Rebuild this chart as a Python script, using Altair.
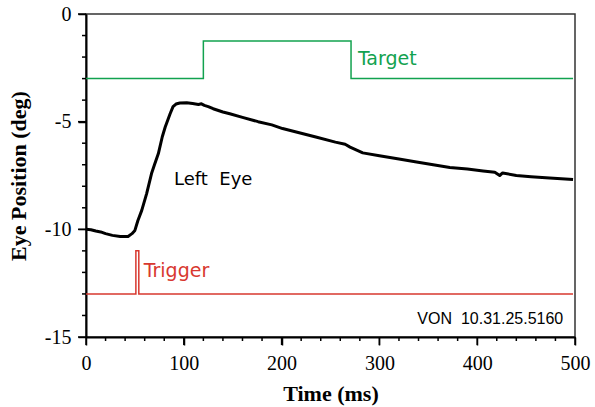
import altair as alt
import pandas as pd

# ---- data ----
eye_t = [0, 5, 10, 15, 20, 27, 35, 43, 47, 50, 53, 57, 62, 67, 70, 74, 78, 81, 86, 89, 92, 96,
         103, 109, 115, 118, 121, 125, 130, 140, 147, 160, 176, 190, 201, 215, 235, 255, 265,
         270, 283, 300, 320, 338, 355, 372, 390, 406, 418, 423, 426, 440, 455, 474, 490, 498]
eye_pos = [-10.0, -10.02, -10.08, -10.12, -10.2, -10.28, -10.33, -10.33, -10.2, -10.05, -9.6,
           -9.12, -8.34, -7.41, -7.0, -6.48, -5.7, -5.25, -4.63, -4.3, -4.18, -4.13,
           -4.12, -4.16, -4.2, -4.17, -4.24, -4.3, -4.4, -4.55, -4.63, -4.8, -5.0, -5.15, -5.32,
           -5.48, -5.71, -5.95, -6.05, -6.18, -6.45, -6.58, -6.73, -6.87, -7.0, -7.13, -7.2,
           -7.29, -7.35, -7.5, -7.38, -7.5, -7.56, -7.62, -7.66, -7.69]

target_t = [0, 120, 120, 271, 271, 498]
target_pos = [-3, -3, -1.25, -1.25, -3, -3]

trigger_t = [0, 51, 51, 54, 54, 498]
trigger_pos = [-13, -13, -11, -11, -13, -13]

NBSP = "\u00a0"
label_text = ["Target", "Left" + NBSP + NBSP + "Eye", "Trigger",
              "VON" + NBSP + NBSP + "10.31.25.5160"]
label_t = [278, 90, 59, 488]
label_pos = [-2.38, -7.96, -12.21, -14.38]

x_major = [0, 100, 200, 300, 400, 500]
x_minor = [v for v in range(0, 501, 20) if v % 100 != 0]
y_major = [0, -5, -10, -15]
y_minor = [v for v in range(-15, 1) if v % 5 != 0]

GREEN = "#12a24f"
RED = "#d8382f"
W, H = 489, 323

def line_df(t, v):
    return pd.DataFrame({"t": t, "v": v, "i": list(range(len(t)))})

xs = alt.Scale(domain=[0, 500], nice=False, zero=False)
ys = alt.Scale(domain=[-15, 0], nice=False, zero=False)

xaxis = alt.Axis(
    values=x_major, labelExpr="'' + datum.value",
    ticks=True, tickSize=8, tickWidth=1.5, tickColor="black",
    domain=True, domainColor="black", domainWidth=2,
    labelFont="Liberation Serif", labelFontSize=20, labelColor="black",
    labelPadding=8, labelFlush=False, labelOverlap=False, grid=False,
    title="Time (ms)", titleFont="Liberation Serif", titleFontSize=22,
    titleFontWeight="bold", titleColor="black",
    titleY=63, titleBaseline="alphabetic", orient="bottom",
)
yaxis = alt.Axis(
    values=y_major, labelExpr="'' + datum.value",
    ticks=True, tickSize=8, tickWidth=1.5, tickColor="black",
    domain=True, domainColor="black", domainWidth=2,
    labelFont="Liberation Serif", labelFontSize=20, labelColor="black",
    labelPadding=7, labelFlush=False, labelOverlap=False, grid=False,
    title="Eye Position (deg)", titleFont="Liberation Serif", titleFontSize=22,
    titleFontWeight="bold", titleColor="black",
    titleX=-61, titleY=161.5, titleAngle=270, titleAlign="center",
    titleBaseline="alphabetic", orient="left",
)

X = alt.X("t:Q", scale=xs, axis=xaxis)
Y = alt.Y("v:Q", scale=ys, axis=yaxis)

target = alt.Chart(line_df(target_t, target_pos)).mark_line(
    color=GREEN, strokeWidth=1.5
).encode(x=X, y=Y, order="i:Q")

trigger = alt.Chart(line_df(trigger_t, trigger_pos)).mark_line(
    color=RED, strokeWidth=1.5
).encode(x=X, y=Y, order="i:Q")

eye = alt.Chart(line_df(eye_t, eye_pos)).mark_line(
    color="black", strokeWidth=3, strokeJoin="round"
).encode(x=X, y=Y, order="i:Q")

# axis tick marks drawn through the shared scales
def xticks(vals, length):
    return alt.Chart(pd.DataFrame({"t": vals})).mark_rule(
        color="black", strokeWidth=1.5, clip=False
    ).encode(x=X, y=alt.value(H), y2=alt.value(H + length))

def yticks(vals, length):
    return alt.Chart(pd.DataFrame({"v": vals})).mark_rule(
        color="black", strokeWidth=1.5, clip=False
    ).encode(y=Y, x=alt.value(0), x2=alt.value(-length))

labels = pd.DataFrame({"t": label_t, "v": label_pos, "text": label_text})

def text_layer(idx, color, font, size, align):
    return alt.Chart(labels.iloc[[idx]]).mark_text(
        color=color, font=font, fontSize=size, align=align, baseline="alphabetic"
    ).encode(x=X, y=Y, text="text:N")

chart = alt.layer(
    target, trigger, eye,
    xticks(x_major, 8), xticks(x_minor, 4),
    yticks(y_major, 8), yticks(y_minor, 4),
    text_layer(0, GREEN, "DejaVu Sans", 19, "left"),
    text_layer(1, "black", "DejaVu Sans", 18, "left"),
    text_layer(2, RED, "DejaVu Sans", 19, "left"),
    text_layer(3, "black", "Liberation Sans", 16, "right"),
).properties(
    width=W, height=H,
    autosize=alt.AutoSizeParams(type="none"),
    padding={"left": 86, "top": 14, "right": 20, "bottom": 70},
    background="white",
).configure_view(stroke="#333333", strokeWidth=1.5)

chart.save("out.html", embed_options={"renderer": "svg", "actions": False})
